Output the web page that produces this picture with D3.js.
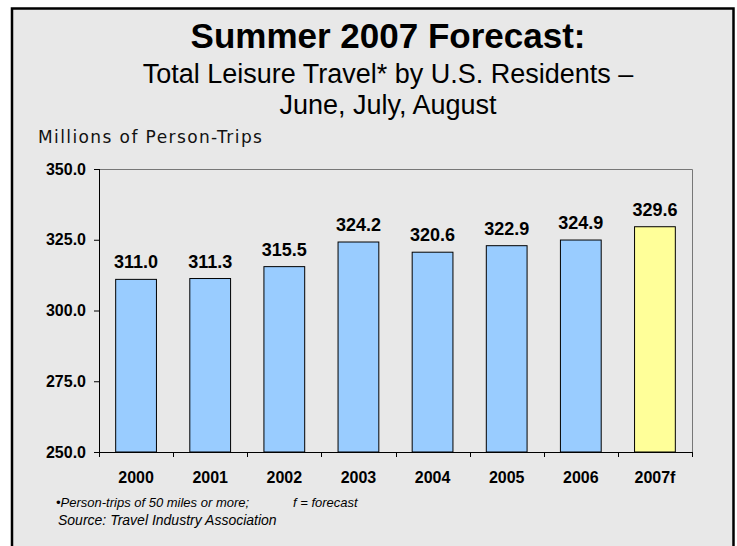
<!DOCTYPE html>
<html>
<head>
<meta charset="utf-8">
<script src="https://cdn.jsdelivr.net/npm/d3@7"></script>
<style>
  body { margin: 0; background: #fff; }
  svg { display: block; }
</style>
</head>
<body>
<svg id="chart" width="737" height="546"></svg>
<script>
/****** Summer 2007 forecast bar chart *******/
var years = ["2000", "2001", "2002", "2003", "2004", "2005", "2006", "2007f"];
var trips = [311.0, 311.3, 315.5, 324.2, 320.6, 322.9, 324.9, 329.6];
var forecast = [false, false, false, false, false, false, false, true];
var yTicks = [250, 275, 300, 325, 350];

var svgWidth = 737, svgHeight = 546;
var margin = {top: 169, right: 45, bottom: 94, left: 99};
var width = 692 - margin.left;
var height = 452 - margin.top;

var svg = d3.select("#chart");

// outer frame
svg.append("rect")
    .attr("x", 12).attr("y", 8.5)
    .attr("width", 721.5).attr("height", 560)
    .attr("fill", "#e8e8e8")
    .attr("stroke", "#000")
    .attr("stroke-width", 2.5);

// titles
svg.append("text")
    .attr("x", 388).attr("y", 48)
    .attr("text-anchor", "middle")
    .style("font-family", "'Liberation Sans', Arial, sans-serif")
    .style("font-weight", "bold")
    .style("font-size", "35px")
    .text("Summer 2007 Forecast:");

svg.append("text")
    .attr("x", 388).attr("y", 82.5)
    .attr("text-anchor", "middle")
    .style("font-family", "'Liberation Sans', Arial, sans-serif")
    .style("font-size", "27px")
    .text("Total Leisure Travel* by U.S. Residents \u2013");

svg.append("text")
    .attr("x", 388).attr("y", 114)
    .attr("text-anchor", "middle")
    .style("font-family", "'Liberation Sans', Arial, sans-serif")
    .style("font-size", "27px")
    .text("June, July, August");

svg.append("text")
    .attr("x", 38).attr("y", 143)
    .style("font-family", "'DejaVu Sans', Verdana, sans-serif")
    .style("font-size", "17px")
    .style("letter-spacing", "1.4px")
    .attr("fill", "#111")
    .text("Millions of Person-Trips");

var g = svg.append("g")
    .attr("transform", "translate(" + margin.left + "," + margin.top + ")");

var x = d3.scaleBand()
    .domain(years)
    .range([0, width])
    .paddingInner(0.45)
    .paddingOuter(0.225);

var y = d3.scaleLinear()
    .domain([250, 350])
    .range([height, 0]);

// plot frame top + right
g.append("path")
    .attr("d", "M0,0.5H" + (width + 0.5) + "V" + height)
    .attr("fill", "none")
    .attr("stroke", "#777")
    .attr("stroke-width", 1);

// bars
g.selectAll(".bar")
    .data(trips)
    .enter().append("rect")
    .attr("class", "bar")
    .attr("x", function (d, i) { return x(years[i]); })
    .attr("y", function (d) { return y(d); })
    .attr("width", x.bandwidth())
    .attr("height", function (d) { return height - y(d); })
    .attr("fill", function (d, i) { return forecast[i] ? "#ffff99" : "#99ccff"; })
    .attr("stroke", "#000")
    .attr("stroke-width", 1);

// value labels
g.selectAll(".val")
    .data(trips)
    .enter().append("text")
    .attr("class", "val")
    .attr("x", function (d, i) { return x(years[i]) + x.bandwidth() / 2; })
    .attr("y", function (d) { return y(d) - 11; })
    .attr("text-anchor", "middle")
    .style("font-family", "'Liberation Sans', Arial, sans-serif")
    .style("font-weight", "bold")
    .style("font-size", "18px")
    .text(function (d) { return d3.format(".1f")(d); });

// y axis
var yAxis = g.append("g")
    .call(d3.axisLeft(y).tickValues(yTicks).tickFormat(d3.format(".1f")).tickSize(5).tickPadding(8));
yAxis.select(".domain").attr("d", "M0.5,0V" + height);
yAxis.selectAll("text")
    .style("font-family", "'Liberation Sans', Arial, sans-serif")
    .style("font-weight", "bold")
    .style("font-size", "16px")
    .attr("fill", "#000");

// x axis
var xAxis = g.append("g")
    .attr("transform", "translate(0," + height + ")")
    .call(d3.axisBottom(x).tickSize(0).tickPadding(20));
xAxis.select(".domain").attr("d", "M0,0.5H" + width);
xAxis.selectAll("text")
    .style("font-family", "'Liberation Sans', Arial, sans-serif")
    .style("font-weight", "bold")
    .style("font-size", "16px")
    .attr("fill", "#000");

// category boundary ticks
xAxis.selectAll(".bound")
    .data(d3.range(years.length + 1))
    .enter().append("line")
    .attr("class", "bound")
    .attr("x1", function (i) { return Math.round(i * x.step()) + 0.5; })
    .attr("x2", function (i) { return Math.round(i * x.step()) + 0.5; })
    .attr("y1", 0).attr("y2", 5)
    .attr("stroke", "#000");

// footnotes
var foot = svg.append("g")
    .style("font-family", "'Liberation Sans', Arial, sans-serif")
    .style("font-style", "italic")
    .attr("fill", "#000");

foot.append("text")
    .attr("x", 56).attr("y", 507)
    .style("font-size", "13px")
    .text("\u2022Person-trips of 50 miles or more;");
foot.append("text")
    .attr("x", 293).attr("y", 507)
    .style("font-size", "13px")
    .text("f = forecast");
foot.append("text")
    .attr("x", 58).attr("y", 525)
    .style("font-size", "14px")
    .text("Source: Travel Industry Association");
</script>
</body>
</html>
